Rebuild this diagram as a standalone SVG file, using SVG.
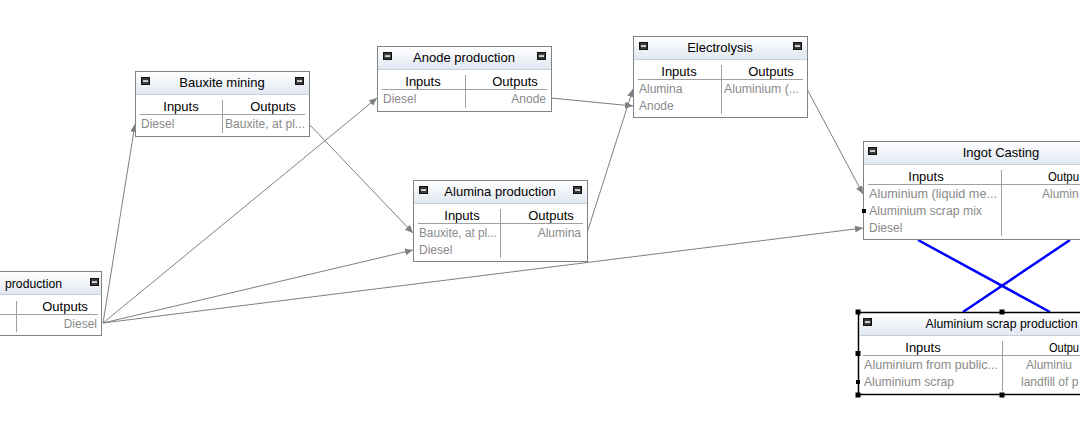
<svg xmlns="http://www.w3.org/2000/svg" xmlns:xlink="http://www.w3.org/1999/xlink" width="1080" height="421" viewBox="0 0 1080 421">
<style>
.box{fill:#fff;stroke:#828282;stroke-width:1}
.tb{fill:url(#tg)}
.tbl{stroke:#c9d0da;stroke-width:1}
.t{font-family:"Liberation Sans",Arial,sans-serif;font-size:13px;fill:#000;text-anchor:middle}
.h{font-family:"Liberation Sans",Arial,sans-serif;font-size:13px;fill:#000;text-anchor:middle}
.r{font-family:"Liberation Sans",Arial,sans-serif;font-size:12px;fill:#8a8a8a}
.re{text-anchor:end}
.sep{stroke:#a0a0a0;stroke-width:1}
.con{stroke:#808080;stroke-width:1;fill:none;marker-end:url(#ah)}
.lnk{stroke:#0000ff;stroke-width:2.5}
.hd{fill:#000}
</style>
<defs>
<linearGradient id="tg" x1="0" y1="0" x2="0" y2="1">
<stop offset="0" stop-color="#ffffff"/>
<stop offset="1" stop-color="#e1e8f2"/>
</linearGradient>
<marker id="ah" markerUnits="userSpaceOnUse" markerWidth="9" markerHeight="8" refX="8" refY="3.5" orient="auto">
<path d="M0,0 L8,3.5 L0,7 z" fill="#808080"/>
</marker>
<g id="mi">
<rect x="0.5" y="0.5" width="8" height="7" fill="#3a3a3a" stroke="#111"/>
<rect x="2" y="3.3" width="5" height="1.5" fill="#fff"/>
</g>
</defs>
<rect width="1080" height="421" fill="#fff"/>

<g id="connectors">
<line class="con" x1="103" y1="323" x2="135" y2="124"/>
<line class="con" x1="103" y1="323" x2="377" y2="98"/>
<line class="con" x1="103" y1="323" x2="413" y2="250"/>
<line class="con" x1="103" y1="323" x2="863" y2="228"/>
<line class="con" x1="309" y1="124" x2="413" y2="233"/>
<line class="con" x1="551" y1="98" x2="633" y2="106"/>
<line class="con" x1="587" y1="233" x2="633" y2="89"/>
<line class="con" x1="807" y1="89" x2="863" y2="194"/>
<line class="lnk" x1="918" y1="240" x2="1050" y2="312"/>
<line class="lnk" x1="1070" y1="240" x2="963" y2="312"/>
</g>

<g id="diesel-production">
<rect class="box" x="-72.5" y="271.5" width="174" height="64"/>
<rect class="tb" x="-72" y="272" width="173" height="22"/>
<line class="tbl" x1="-72" y1="294.5" x2="101" y2="294.5"/>
<text class="t" x="5" y="288" style="text-anchor:start" textLength="57" lengthAdjust="spacingAndGlyphs">production</text>
<use href="#mi" x="90" y="278"/>
<text class="h" x="65" y="311">Outputs</text>
<line class="sep" x1="0" y1="314.5" x2="98" y2="314.5"/>
<line class="sep" x1="16.5" y1="301" x2="16.5" y2="332"/>
<text class="r re" x="97" y="328">Diesel</text>
</g>

<g id="bauxite-mining">
<rect class="box" x="135.5" y="71.5" width="174" height="65"/>
<rect class="tb" x="136" y="72" width="173" height="22"/>
<line class="tbl" x1="136" y1="94.5" x2="309" y2="94.5"/>
<text class="t" x="222" y="87">Bauxite mining</text>
<use href="#mi" x="141" y="77"/>
<use href="#mi" x="295" y="77"/>
<text class="h" x="181" y="111">Inputs</text>
<text class="h" x="273" y="111">Outputs</text>
<line class="sep" x1="140" y1="114.5" x2="305" y2="114.5"/>
<line class="sep" x1="222.5" y1="100" x2="222.5" y2="133"/>
<text class="r" x="141" y="128">Diesel</text>
<text class="r" x="225" y="128" textLength="80" lengthAdjust="spacingAndGlyphs">Bauxite, at pl...</text>
</g>

<g id="anode-production">
<rect class="box" x="377.5" y="46.5" width="174" height="65"/>
<rect class="tb" x="378" y="47" width="173" height="22"/>
<line class="tbl" x1="378" y1="69.5" x2="551" y2="69.5"/>
<text class="t" x="464" y="62">Anode production</text>
<use href="#mi" x="383" y="52"/>
<use href="#mi" x="537" y="52"/>
<text class="h" x="423" y="86">Inputs</text>
<text class="h" x="515" y="86">Outputs</text>
<line class="sep" x1="382" y1="89.5" x2="547" y2="89.5"/>
<line class="sep" x1="465.5" y1="75" x2="465.5" y2="108"/>
<text class="r" x="383" y="103">Diesel</text>
<text class="r re" x="546" y="103">Anode</text>
</g>

<g id="electrolysis">
<rect class="box" x="633.5" y="36.5" width="174" height="81"/>
<rect class="tb" x="634" y="37" width="173" height="22"/>
<line class="tbl" x1="634" y1="59.5" x2="807" y2="59.5"/>
<text class="t" x="720" y="52">Electrolysis</text>
<use href="#mi" x="639" y="42"/>
<use href="#mi" x="793" y="42"/>
<text class="h" x="679" y="76">Inputs</text>
<text class="h" x="771" y="76">Outputs</text>
<line class="sep" x1="638" y1="79.5" x2="803" y2="79.5"/>
<line class="sep" x1="721.5" y1="65" x2="721.5" y2="114"/>
<text class="r" x="639" y="93">Alumina</text>
<text class="r" x="639" y="110">Anode</text>
<text class="r" x="724" y="93" textLength="75" lengthAdjust="spacingAndGlyphs">Aluminium (...</text>
</g>

<g id="alumina-production">
<rect class="box" x="413.5" y="180.5" width="174" height="81"/>
<rect class="tb" x="414" y="181" width="173" height="22"/>
<line class="tbl" x1="414" y1="203.5" x2="587" y2="203.5"/>
<text class="t" x="500" y="196">Alumina production</text>
<use href="#mi" x="419" y="186"/>
<use href="#mi" x="573" y="186"/>
<text class="h" x="462" y="220">Inputs</text>
<text class="h" x="551" y="220">Outputs</text>
<line class="sep" x1="418" y1="223.5" x2="583" y2="223.5"/>
<line class="sep" x1="500.5" y1="209" x2="500.5" y2="258"/>
<text class="r" x="419" y="237" textLength="78" lengthAdjust="spacingAndGlyphs">Bauxite, at pl...</text>
<text class="r" x="419" y="254">Diesel</text>
<text class="r re" x="581" y="237">Alumina</text>
</g>

<g id="ingot-casting">
<rect class="box" x="863.5" y="141.5" width="276" height="98"/>
<rect class="tb" x="864" y="142" width="275" height="22"/>
<line class="tbl" x1="864" y1="164.5" x2="1139" y2="164.5"/>
<text class="t" x="1001" y="157">Ingot Casting</text>
<use href="#mi" x="868" y="147"/>
<text class="h" x="926" y="181">Inputs</text>
<text class="h" x="1048" y="181" style="text-anchor:start" textLength="31" lengthAdjust="spacingAndGlyphs">Outpu</text>
<line class="sep" x1="868" y1="184.5" x2="1135" y2="184.5"/>
<line class="sep" x1="1001.5" y1="170" x2="1001.5" y2="236"/>
<text class="r" x="869" y="198" textLength="128" lengthAdjust="spacingAndGlyphs">Aluminium (liquid me...</text>
<text class="r" x="869" y="215" textLength="113" lengthAdjust="spacingAndGlyphs">Aluminium scrap mix</text>
<text class="r" x="869" y="232">Diesel</text>
<text class="r" x="1042" y="198">Alumin</text>
<rect class="hd" x="862" y="209" width="4" height="4"/>
</g>

<g id="aluminium-scrap-production">
<rect class="box" x="858.5" y="312.5" width="288" height="82" style="stroke:#000;stroke-width:1.5"/>
<rect class="tb" x="860" y="314" width="285" height="21"/>
<line class="tbl" x1="860" y1="335.5" x2="1145" y2="335.5"/>
<text class="t" x="1001.5" y="328" textLength="152" lengthAdjust="spacingAndGlyphs">Aluminium scrap production</text>
<use href="#mi" x="863" y="318"/>
<text class="h" x="923" y="352">Inputs</text>
<text class="h" x="1049" y="352" style="text-anchor:start" textLength="30" lengthAdjust="spacingAndGlyphs">Outpu</text>
<line class="sep" x1="863" y1="355.5" x2="1142" y2="355.5"/>
<line class="sep" x1="1002.5" y1="341" x2="1002.5" y2="391"/>
<text class="r" x="864" y="369" textLength="134" lengthAdjust="spacingAndGlyphs">Aluminium from public...</text>
<text class="r" x="864" y="386" textLength="90" lengthAdjust="spacingAndGlyphs">Aluminium scrap</text>
<text class="r" x="1026" y="369">Aluminiu</text>
<text class="r" x="1021" y="386">landfill of p</text>
<rect class="hd" x="855.5" y="309.5" width="5" height="5"/>
<rect class="hd" x="999.5" y="309.5" width="5" height="5"/>
<rect class="hd" x="855.5" y="351" width="5" height="5"/>
<rect class="hd" x="855.5" y="392.5" width="5" height="5"/>
<rect class="hd" x="999.5" y="392.5" width="5" height="5"/>
<rect class="hd" x="856" y="380" width="4" height="4"/>
</g>
</svg>
